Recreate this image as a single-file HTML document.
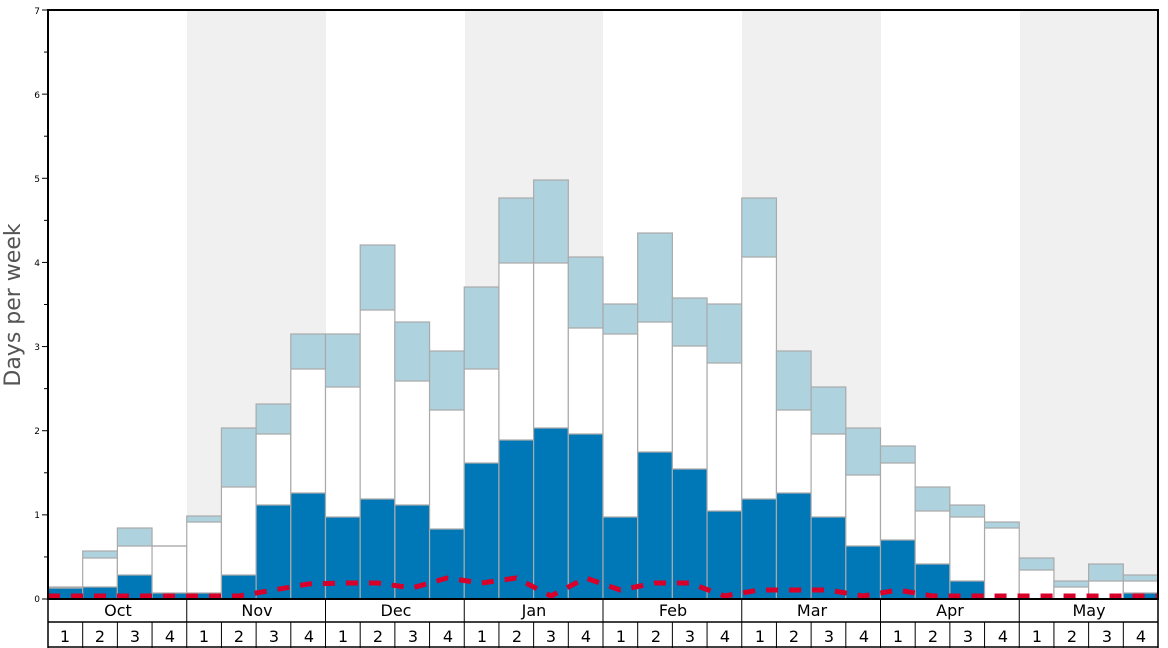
<!DOCTYPE html>
<html><head><meta charset="utf-8"><style>
html,body{margin:0;padding:0;background:#fff;width:1168px;height:648px;overflow:hidden}
svg{display:block;font-family:"DejaVu Sans","Liberation Sans",sans-serif}
</style></head><body>
<svg id="s" width="1168" height="648" viewBox="0 0 1168 648">
<rect x="0" y="0" width="1168" height="648" fill="#fff"/>
<rect x="187" y="10" width="139" height="589" fill="#f0f0f0"/>
<rect x="465" y="10" width="138" height="589" fill="#f0f0f0"/>
<rect x="742" y="10" width="139" height="589" fill="#f0f0f0"/>
<rect x="1020" y="10" width="138" height="589" fill="#f0f0f0"/>
<g id="bars"></g>
<polyline id="red" fill="none" stroke="#d8002a" stroke-width="5" stroke-dasharray="12,11"/>
<rect x="48" y="10" width="1110" height="589" fill="none" stroke="#000" stroke-width="2"/>
<g stroke="#000" stroke-width="1.5">
<line x1="48" y1="599" x2="48" y2="648"/><line x1="1158" y1="599" x2="1158" y2="648"/>
<line x1="48" y1="622" x2="1158" y2="622"/><line x1="48" y1="647" x2="1158" y2="647"/>
</g>
<g id="ticks" stroke="#000" stroke-width="1"></g>
<g font-size="9" text-anchor="end" fill="#000">
<text x="40" y="602">0</text><text x="40" y="518">1</text><text x="40" y="434">2</text><text x="40" y="350">3</text><text x="40" y="266">4</text><text x="40" y="182">5</text><text x="40" y="98">6</text><text x="40" y="14">7</text>
</g>
<text transform="translate(20,305) rotate(-90)" font-size="22" fill="#555" text-anchor="middle">Days per week</text>
<g font-size="16" text-anchor="middle" fill="#000">
<text x="118" y="616">Oct</text><text x="257" y="616">Nov</text><text x="396" y="616">Dec</text><text x="534" y="616">Jan</text><text x="673" y="616">Feb</text><text x="812" y="616">Mar</text><text x="950" y="616">Apr</text><text x="1089" y="616">May</text>
</g>
<g font-size="16" text-anchor="middle" fill="#000">
<text x="65" y="642">1</text><text x="100" y="642">2</text><text x="135" y="642">3</text><text x="170" y="642">4</text>
<text x="204" y="642">1</text><text x="239" y="642">2</text><text x="274" y="642">3</text><text x="309" y="642">4</text>
<text x="343" y="642">1</text><text x="378" y="642">2</text><text x="413" y="642">3</text><text x="448" y="642">4</text>
<text x="482" y="642">1</text><text x="517" y="642">2</text><text x="551" y="642">3</text><text x="586" y="642">4</text>
<text x="621" y="642">1</text><text x="656" y="642">2</text><text x="690" y="642">3</text><text x="725" y="642">4</text>
<text x="760" y="642">1</text><text x="794" y="642">2</text><text x="829" y="642">3</text><text x="864" y="642">4</text>
<text x="898" y="642">1</text><text x="933" y="642">2</text><text x="968" y="642">3</text><text x="1003" y="642">4</text>
<text x="1037" y="642">1</text><text x="1072" y="642">2</text><text x="1107" y="642">3</text><text x="1141" y="642">4</text>
</g>
</svg>
<script>
var L=[588,551,528,546,516,428,404,334,334,245,322,351,287,198,180,257,304,233,298,304,198,351,387,428,446,487,505,522,558,581,564,575];
var W=[588,558,546,546,522,487,434,369,387,310,381,410,369,263,263,328,334,322,346,363,257,410,434,475,463,511,517,528,570,587,581,581];
var D=[587,587,575,593,593,575,505,493,517,499,505,529,463,440,428,434,517,452,469,511,499,493,517,546,540,564,581,599,599,599,599,593];
var R=[596,596,596,596,596,596,590,584,583,583,588,578,583,578,596,578,590,583,583,596,590,590,590,596,590,596,596,596,596,596,596,596];
var ns="http://www.w3.org/2000/svg",g=document.getElementById("bars"),bw=1110/32,pts=[];
function r(x,y,w,h,f,st){var e=document.createElementNS(ns,"rect");e.setAttribute("x",x);e.setAttribute("y",y);e.setAttribute("width",w);e.setAttribute("height",Math.max(0,h));e.setAttribute("fill",f);if(st){e.setAttribute("stroke",st);e.setAttribute("stroke-width","1.2");}g.appendChild(e);}
for(var i=0;i<32;i++){var x=48+i*bw;
r(x,L[i],bw,W[i]-L[i],"#aed3df");r(x,W[i],bw,D[i]-W[i],"#fff");r(x,D[i],bw,599-D[i],"#0077b6");
r(x,L[i],bw,599-L[i],"none","#aaa");
var l=document.createElementNS(ns,"line");l.setAttribute("x1",x);l.setAttribute("x2",x+bw);l.setAttribute("y1",W[i]);l.setAttribute("y2",W[i]);l.setAttribute("stroke","#aaa");l.setAttribute("stroke-width","1.2");g.appendChild(l);
var l2=l.cloneNode();l2.setAttribute("y1",D[i]);l2.setAttribute("y2",D[i]);g.appendChild(l2);
pts.push((x+bw/2).toFixed(1)+","+R[i]);}
pts.unshift("48,"+R[0]);pts.push("1158,"+R[31]);
document.getElementById("red").setAttribute("points",pts.join(" "));
var t=document.getElementById("ticks");
for(var k=0;k<=14;k++){var y=599-k*589/14,e=document.createElementNS(ns,"line");e.setAttribute("x1",k%2?44:42);e.setAttribute("x2",48);e.setAttribute("y1",y);e.setAttribute("y2",y);t.appendChild(e);}
for(var m=1;m<8;m++){var x=48+m*4*bw,e=document.createElementNS(ns,"line");e.setAttribute("x1",x);e.setAttribute("x2",x);e.setAttribute("y1",599);e.setAttribute("y2",622);t.appendChild(e);}
for(var w=1;w<32;w++){var x=48+w*bw,e=document.createElementNS(ns,"line");e.setAttribute("x1",x);e.setAttribute("x2",x);e.setAttribute("y1",622);e.setAttribute("y2",648);t.appendChild(e);}
</script>
</body></html>
